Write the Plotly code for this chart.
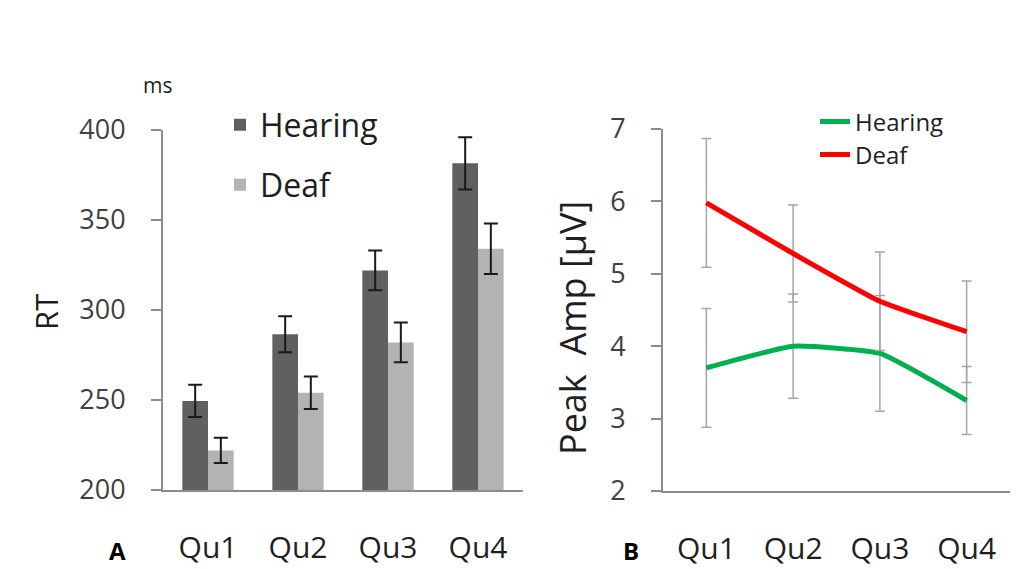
import plotly.graph_objects as go

categories = ["Qu1", "Qu2", "Qu3", "Qu4"]

# Panel A: reaction times (ms)
rt_hearing = [249.5, 286.5, 322, 381.5]
rt_hearing_err = [9, 10, 11, 14.5]
rt_deaf = [222, 254, 282, 334]
rt_deaf_err = [7, 9, 11, 14]

# Panel B: peak amplitude (µV)
amp_hearing = [3.7, 4.0, 3.9, 3.25]
amp_hearing_err = [0.82, 0.72, 0.8, 0.47]
amp_deaf = [5.98, 5.28, 4.62, 4.2]
amp_deaf_err = [0.89, 0.67, 0.68, 0.7]

FONT = "Open Sans"
TXT = "#1f1f1f"
TICK = "#404040"
AXC = "#8c8c8c"

fig = go.Figure()

fig.add_trace(go.Bar(
    x=categories, y=rt_hearing, name="Hearing",
    marker=dict(color="#606060", line=dict(width=0)),
    error_y=dict(type="data", array=rt_hearing_err, color="#1a1a1a", thickness=2, width=7),
    xaxis="x", yaxis="y", legend="legend",
))
fig.add_trace(go.Bar(
    x=categories, y=rt_deaf, name="Deaf",
    marker=dict(color="#b3b3b3", line=dict(width=0)),
    error_y=dict(type="data", array=rt_deaf_err, color="#1a1a1a", thickness=2, width=7),
    xaxis="x", yaxis="y", legend="legend2",
))

fig.add_trace(go.Scatter(
    x=categories, y=amp_hearing, name="Hearing", mode="lines",
    line=dict(color="#00b050", width=5, shape="spline", smoothing=0.4),
    error_y=dict(type="data", array=amp_hearing_err, color="#a6a6a6", thickness=1.5, width=5),
    xaxis="x2", yaxis="y2", legend="legend3",
))
fig.add_trace(go.Scatter(
    x=categories, y=amp_deaf, name="Deaf", mode="lines",
    line=dict(color="#ff0000", width=5, shape="spline", smoothing=0.4),
    error_y=dict(type="data", array=amp_deaf_err, color="#a6a6a6", thickness=1.5, width=5),
    xaxis="x2", yaxis="y2", legend="legend4",
))

# page body has an 8px margin: size the figure to fit and map page pixels
OFF = 8
W, H = 1024 - OFF, 569 - OFF
def px(x): return (x - OFF) / W
def py(y): return 1 - (y - OFF) / H

common_x = dict(
    type="category", range=[-0.5, 3.5], showline=True, linecolor=AXC, linewidth=2,
    ticks="", showgrid=False, zeroline=False,
    tickfont=dict(family=FONT, size=30, color=TXT),
    ticklabelstandoff=30,
)
common_y = dict(
    showline=True, linecolor=AXC, linewidth=2, ticks="outside",
    ticklen=10, tickcolor=AXC, tickwidth=2, showgrid=False, zeroline=False,
    tickfont=dict(family=FONT, size=27, color=TICK),
    ticklabelstandoff=20,
)

def leg(x, y, size):
    return dict(x=px(x), y=py(y), xanchor="left", yanchor="middle",
                font=dict(family=FONT, size=size, color=TXT),
                bgcolor="rgba(0,0,0,0)", itemwidth=30)

fig.update_layout(
    width=W, height=H, autosize=False,
    margin=dict(l=0, r=0, t=0, b=0, pad=0, autoexpand=False),
    paper_bgcolor="white", plot_bgcolor="white",
    barmode="group", bargap=0.43, bargroupgap=0,
    xaxis=dict(domain=[px(163), px(523)], anchor="y", **common_x),
    yaxis=dict(domain=[py(490), py(130)], range=[200, 400], dtick=50, anchor="x", **common_y),
    xaxis2=dict(domain=[px(663), px(1010)], anchor="y2", **common_x),
    yaxis2=dict(domain=[py(491), py(129)], range=[2, 7], dtick=1, anchor="x2", **common_y),
    legend=leg(220, 125, 32),
    legend2=leg(220, 185, 32),
    legend3=leg(815, 122, 24),
    legend4=leg(815, 155, 24),
    showlegend=True,
    annotations=[
        dict(text="ms", x=px(157), y=py(85), xref="paper", yref="paper",
             xanchor="center", yanchor="middle",
             showarrow=False, font=dict(family=FONT, size=21, color=TXT)),
        dict(text="RT", x=px(46), y=py(312), xref="paper", yref="paper",
             xanchor="center", yanchor="middle",
             showarrow=False, textangle=-90, font=dict(family=FONT, size=31, color=TXT)),
        dict(text="Peak  Amp [μV]", x=px(572), y=py(328), xref="paper", yref="paper",
             xanchor="center", yanchor="middle",
             showarrow=False, textangle=-90, font=dict(family=FONT, size=36, color=TXT)),
        dict(text="<b>A</b>", x=px(117), y=py(550), xref="paper", yref="paper",
             xanchor="center", yanchor="middle",
             showarrow=False, font=dict(family=FONT, size=24, color="#000000")),
        dict(text="<b>B</b>", x=px(631), y=py(550), xref="paper", yref="paper",
             xanchor="center", yanchor="middle",
             showarrow=False, font=dict(family=FONT, size=24, color="#000000")),
    ],
)

fig.write_html("out.html")
